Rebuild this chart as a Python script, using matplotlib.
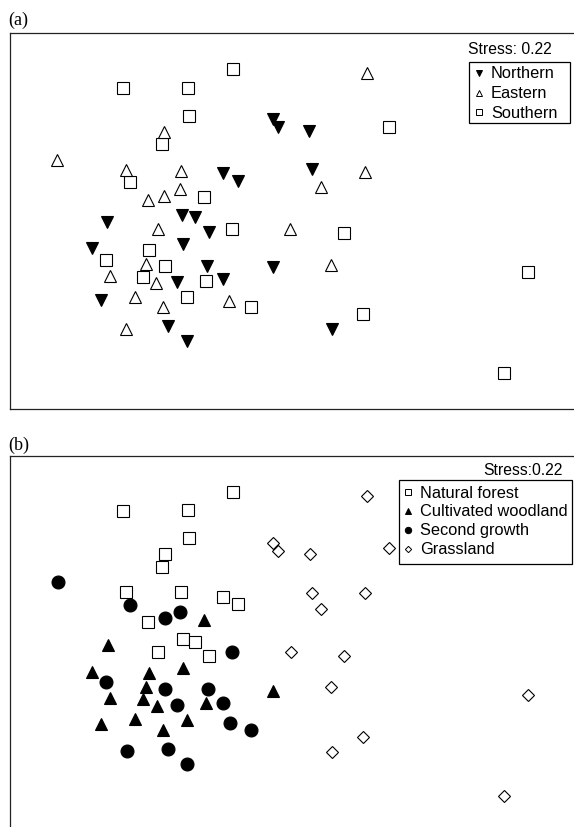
import matplotlib
matplotlib.use('Agg')
import matplotlib.pyplot as plt
from matplotlib.lines import Line2D
from matplotlib.patches import Rectangle

# NMDS scores (arbitrary units, y grows downward)
# panel (a): sites grouped by region
north_x = [273, 278, 309, 223, 238, 312, 107, 182, 195, 209, 92, 183, 207, 273, 177, 223, 101, 168, 187, 332]
north_y = [119, 127, 131, 173, 181, 169, 222, 215, 217, 232, 248, 244, 266, 267, 282, 279, 300, 326, 341, 329]
east_x = [367, 164, 57, 126, 181, 180, 164, 148, 365, 321, 158, 290, 146, 110, 156, 135, 163, 229, 126, 331]
east_y = [73, 132, 160, 170, 171, 189, 196, 200, 172, 187, 229, 229, 264, 276, 283, 297, 307, 301, 329, 265]
south_x = [233, 123, 188, 189, 162, 130, 204, 389, 232, 149, 106, 165, 143, 206, 187, 251, 344, 528, 363, 504]
south_y = [69, 88, 88, 116, 144, 182, 197, 127, 229, 250, 260, 266, 277, 281, 297, 307, 233, 272, 314, 373]

# panel (b): same sites grouped by habitat
forest_x = [233, 123, 188, 189, 165, 162, 126, 181, 223, 238, 148, 158, 183, 195, 209]
forest_y = [492, 511, 510, 538, 554, 567, 592, 592, 597, 604, 622, 652, 639, 642, 656]
wood_x = [204, 108, 92, 149, 183, 146, 110, 143, 157, 206, 273, 101, 135, 187, 163]
wood_y = [620, 645, 672, 673, 668, 687, 698, 699, 706, 703, 691, 724, 719, 720, 730]
second_x = [58, 130, 180, 165, 232, 106, 165, 208, 177, 223, 230, 251, 127, 168, 187]
second_y = [582, 605, 612, 618, 652, 682, 689, 689, 705, 703, 723, 730, 751, 749, 764]
grass_x = [273, 278, 367, 389, 310, 312, 365, 321, 291, 344, 331, 528, 363, 332, 504]
grass_y = [543, 551, 496, 548, 554, 593, 593, 609, 652, 656, 687, 695, 737, 752, 796]

labels_a = ['Northern', 'Eastern', 'Southern']
labels_b = ['Natural forest', 'Cultivated woodland', 'Second growth', 'Grassland']

W, H = 574, 827
fig = plt.figure(figsize=(W / 100, H / 100), dpi=100)
fig.patch.set_facecolor('white')


def fx(px):
    return px / W


def fy(py):
    return 1 - py / H


ax1 = fig.add_axes([fx(10), fy(409), (W - 10) / W, (409 - 33) / H])
ax2 = fig.add_axes([fx(10), 0, (W - 10) / W, (H - 456) / H])

for ax in (ax1, ax2):
    ax.set_xticks([])
    ax.set_yticks([])
    for s in ax.spines.values():
        s.set_linewidth(0.9)
        s.set_color('#222222')
    ax.spines['right'].set_visible(False)
ax2.spines['bottom'].set_visible(False)

ax1.set_xlim(10, W)
ax1.set_ylim(409, 33)
ax2.set_xlim(10, W)
ax2.set_ylim(H, 456)

ew = 0.8
ax1.plot(south_x, south_y, 's', ms=8.3, mfc='white', mec='black', mew=ew, ls='none')
ax1.plot(east_x, east_y, '^', ms=8.3, mfc='white', mec='black', mew=ew, ls='none')
ax1.plot(north_x, north_y, 'v', ms=8.5, mfc='black', mec='black', mew=ew, ls='none')

ax2.plot(forest_x, forest_y, 's', ms=8.3, mfc='white', mec='black', mew=ew, ls='none')
ax2.plot(grass_x, grass_y, 'D', ms=6.0, mfc='white', mec='black', mew=ew, ls='none')
ax2.plot(wood_x, wood_y, '^', ms=8.5, mfc='black', mec='black', mew=ew, ls='none')
ax2.plot(second_x, second_y, 'o', ms=9.3, mfc='black', mec='black', mew=ew, ls='none')

fig.text(fx(8), fy(20), '(a)', family='Liberation Serif', fontsize=13, va='center', ha='left')
fig.text(fx(8), fy(445), '(b)', family='Liberation Serif', fontsize=13, va='center', ha='left')

fig.text(fx(552), fy(54), 'Stress: 0.22', family='Liberation Sans', fontsize=11.3, va='baseline', ha='right')
fig.text(fx(563), fy(475), 'Stress:0.22', family='Liberation Sans', fontsize=11.3, va='baseline', ha='right')


def draw_legend(box, mark_x, text_x, baselines, labels, styles):
    x0, y0, x1, y1 = box
    fig.patches.append(Rectangle((fx(x0), fy(y1)), (x1 - x0) / W, (y1 - y0) / H,
                                 transform=fig.transFigure, facecolor='white',
                                 edgecolor='black', linewidth=0.9, zorder=5))
    for yb, lab, st in zip(baselines, labels, styles):
        fig.lines.append(Line2D([fx(mark_x)], [fy(yb - 5.5)], transform=fig.transFigure,
                                ls='none', mec='black', mew=0.7, zorder=6, **st))
        fig.text(fx(text_x), fy(yb), lab, family='Liberation Sans', fontsize=11.8,
                 va='baseline', ha='left', zorder=6)


draw_legend((469, 62, 570, 123), 479, 491, [78.5, 98, 117.5], labels_a,
            [dict(marker='v', ms=4.2, mfc='black'),
             dict(marker='^', ms=4.2, mfc='white'),
             dict(marker='s', ms=4.0, mfc='white')])

draw_legend((399, 480, 572, 564), 408, 420, [497.5, 516.5, 535.5, 554.5], labels_b,
            [dict(marker='s', ms=4.0, mfc='white'),
             dict(marker='^', ms=4.2, mfc='black'),
             dict(marker='o', ms=4.6, mfc='black'),
             dict(marker='D', ms=3.2, mfc='white')])

fig.savefig('out.png', dpi=100)
